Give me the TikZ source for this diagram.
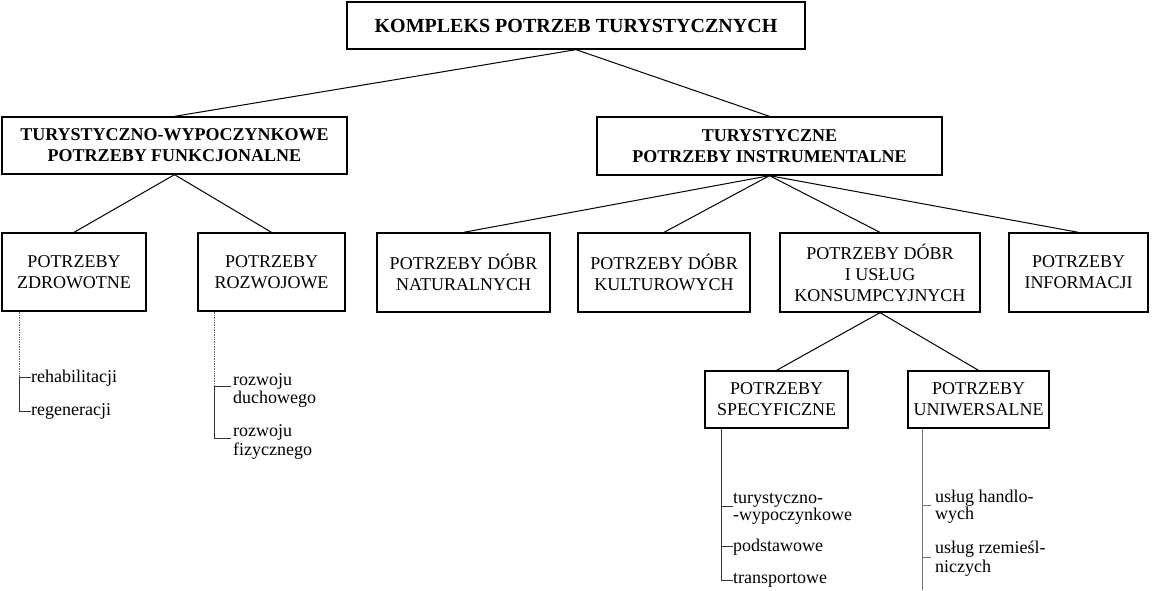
\documentclass[tikz,border=0pt]{standalone}
\usepackage{fontspec}
\setmainfont{Liberation Serif}
\begin{document}
\begin{tikzpicture}[x=1pt,y=-1pt,
  every node/.style={font=\fontsize{18}{21}\selectfont},
  box/.style={draw, line width=1.3pt, align=center, inner sep=0pt},
  boldbox/.style={box, font=\fontsize{18}{21}\selectfont\bfseries},
  conn/.style={line width=1pt},
  listline/.style={line width=0.7pt, black!80},
  dotline/.style={line width=0.7pt, black!60, densely dotted},
  greyline/.style={line width=0.7pt, black!55},
  item/.style={anchor=base west, inner sep=0pt}
]
\useasboundingbox (0,0) rectangle (1153,590);

% boxes
\node[box, font=\fontsize{20}{24}\selectfont\bfseries, minimum width=458pt, minimum height=47pt] (top) at (576,25.5) {KOMPLEKS POTRZEB TURYSTYCZNYCH};
\node[boldbox, minimum width=345pt, minimum height=57pt] (L1) at (174.5,145.5) {TURYSTYCZNO-WYPOCZYNKOWE\\POTRZEBY FUNKCJONALNE};
\node[boldbox, minimum width=345pt, minimum height=58pt] (R1) at (769.5,146) {TURYSTYCZNE\\POTRZEBY INSTRUMENTALNE};

\node[box, minimum width=144pt, minimum height=78pt] (zdr) at (74,272) {POTRZEBY\\ZDROWOTNE};
\node[box, minimum width=147pt, minimum height=78pt] (roz) at (271.5,272) {POTRZEBY\\ROZWOJOWE};
\node[box, minimum width=173pt, minimum height=79pt] (nat) at (463.5,272.5) {POTRZEBY DÓBR\\NATURALNYCH};
\node[box, minimum width=172pt, minimum height=79pt] (kul) at (664,272.5) {POTRZEBY DÓBR\\KULTUROWYCH};
\node[box, minimum width=200pt, minimum height=79pt] (kon) at (880,272.5) {POTRZEBY DÓBR\\I USŁUG\\KONSUMPCYJNYCH};
\node[box, minimum width=139pt, minimum height=79pt] (inf) at (1078.5,272.5) {POTRZEBY\\INFORMACJI};

\node[box, minimum width=143pt, minimum height=57pt] (spe) at (776.5,399.5) {POTRZEBY\\SPECYFICZNE};
\node[box, minimum width=141pt, minimum height=57pt] (uni) at (978.5,399.5) {POTRZEBY\\UNIWERSALNE};

% tree connectors
\draw[conn] (top.south) -- (L1.north);
\draw[conn] (top.south) -- (R1.north);
\draw[conn] (L1.south) -- (zdr.north);
\draw[conn] (L1.south) -- (roz.north);
\draw[conn] (R1.south) -- (nat.north);
\draw[conn] (R1.south) -- (kul.north);
\draw[conn] (R1.south) -- (kon.north);
\draw[conn] (R1.south) -- (inf.north);
\draw[conn] (kon.south) -- (spe.north);
\draw[conn] (kon.south) -- (uni.north);

% list: zdrowotne
\node[item] (reh) at (31,382) {rehabilitacji};
\node[item] (reg) at (31,415) {regeneracji};
\coordinate (z0) at ([xshift=18pt]zdr.south west);
\draw[dotline] (z0) -- (z0 |- reh.west);
\draw[listline] (z0 |- reh.west) |- (reg.west);
\draw[listline] (z0 |- reh.west) -- (reh.west);

% list: rozwojowe
\node[item] (rd1) at (233,385) {rozwoju};
\node[item] (rd2) at (233,403) {duchowego};
\node[item] (rf1) at (233,436) {rozwoju};
\node[item] (rf2) at (233,455) {fizycznego};
\coordinate (r0) at ([xshift=17pt]roz.south west);
\coordinate (r1) at ([yshift=-1pt]rd1.base west);
\coordinate (r2) at ([yshift=-2pt]rf1.base west);
\draw[dotline] (r0) -- (r0 |- r1);
\draw[listline] (r0 |- r1) -- ([xshift=-2pt]r1);
\draw[listline] (r0 |- r1) |- ([xshift=-2pt]r2);

% list: specyficzne
\node[item] (st1) at (733,503) {turystyczno-};
\node[item] (st2) at (733,520) {-wypoczynkowe};
\node[item] (sp) at (733,551) {podstawowe};
\node[item] (str) at (733,583) {transportowe};
\coordinate (s0) at ([xshift=17pt]spe.south west);
\coordinate (s1) at ([yshift=-3pt]st1.base west);
\draw[listline] (s0) |- (str.west);
\draw[listline] (s0 |- s1) -- (s1);
\draw[listline] (s0 |- sp.west) -- (sp.west);

% list: uniwersalne
\node[item] (uh1) at (935,502) {usług handlo-};
\node[item] (uh2) at (935,519) {wych};
\node[item] (ur1) at (935,553) {usług rzemieśl-};
\node[item] (ur2) at (935,572) {niczych};
\coordinate (u0) at ([xshift=15pt]uni.south west);
\coordinate (uend) at (0,590);
\coordinate (u1) at ([yshift=-3pt]uh1.base west);
\coordinate (u2) at ([yshift=-4pt]ur1.base west);
\draw[greyline] (u0) -- (u0 |- uend);
\draw[greyline] (u0 |- u1) -- ([xshift=-4pt]u1);
\draw[greyline] (u0 |- u2) -- ([xshift=-4pt]u2);
\end{tikzpicture}
\end{document}
